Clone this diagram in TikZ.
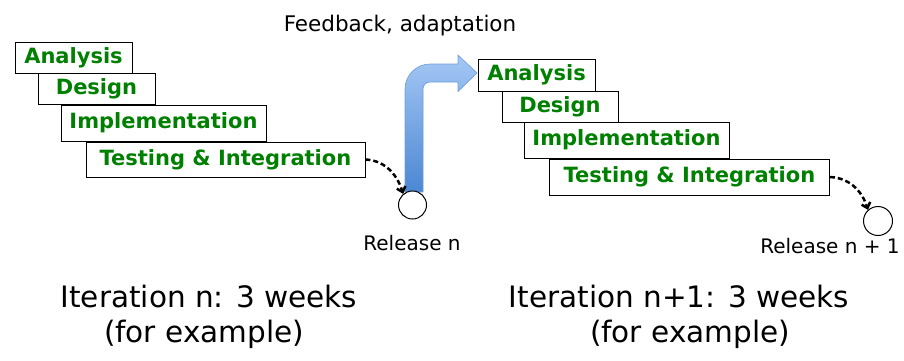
\documentclass[tikz,border=0pt]{standalone}
\usepackage{fontspec}
\setmainfont{DejaVu Sans}
\usetikzlibrary{arrows.meta}
\definecolor{boxgreen}{RGB}{0,128,0}
\definecolor{arrtop}{RGB}{165,200,245}
\definecolor{arrbot}{RGB}{75,135,210}
\definecolor{arredge}{RGB}{110,155,215}
\begin{document}
\begin{tikzpicture}[x=1pt,y=-1pt,
  phase/.style={draw=black, line width=0.8pt, fill=white, text=boxgreen,
    font=\fontsize{21}{24}\selectfont\bfseries, inner sep=0pt},
  relcirc/.style={circle, draw=black, line width=1pt, fill=white,
    minimum size=28pt, inner sep=0pt},
  lbl/.style={font=\fontsize{20}{24}\selectfont, anchor=base, inner sep=0pt},
  ttl/.style={font=\fontsize{29.5}{35}\selectfont, anchor=base, inner sep=0pt},
  flow/.style={dash pattern=on 5pt off 3pt, line width=2.5pt,
    -{Straight Barb[length=5pt,width=9pt]}},
  bigarrow/.style={draw=arredge, line width=0.6pt, top color=arrtop, bottom color=arrbot}
]
\useasboundingbox (0,0) rectangle (904,360);

% feedback arrow
\path[bigarrow] (405,192) -- (405,89)
  .. controls (405,75.2) and (416.2,64) .. (430,64)
  -- (458,64) -- (458,55) -- (477,73) -- (458,91.5) -- (458,82) -- (430,82)
  .. controls (426.1,82) and (423,85.1) .. (423,89)
  -- (423,192) -- cycle;

% iteration n
\node[phase, minimum width=117pt, minimum height=31pt] (a1) at (73.5,57.5) {Analysis};
\node[phase, minimum width=117pt, minimum height=31pt] (d1) at (96.5,88.5) {Design};
\node[phase, minimum width=205pt, minimum height=36pt] (i1) at (163.5,123) {Implementation};
\node[phase, minimum width=279pt, minimum height=35pt] (t1) at (225.5,159.5) {Testing \& Integration};
\node[relcirc] (c1) at (412.5,205) {};
\draw[flow] (t1.east) .. controls +(22,1) and +(-5,-16) .. (c1.130);

% iteration n+1
\node[phase, minimum width=117pt, minimum height=32pt] (a2) at (536.5,75) {Analysis};
\node[phase, minimum width=116pt, minimum height=31pt] (d2) at (560,106.5) {Design};
\node[phase, minimum width=205pt, minimum height=36pt] (i2) at (626.5,140) {Implementation};
\node[phase, minimum width=280pt, minimum height=36pt] (t2) at (689.5,177) {Testing \& Integration};
\node[relcirc, minimum size=29pt] (c2) at (878,221) {};
\draw[flow] (t2.east) .. controls +(22,1) and +(-5,-16) .. (c2.132);

% labels
\node[lbl, font=\fontsize{21.5}{26}\selectfont] (fb) at (400,31) {Feedback, adaptation};
\node[lbl] (r1) at (412,250) {Release n};
\node[lbl] (r2) at (830,253) {Release n + 1};

\node[ttl] (it1) at (209,307) {Iteration n: 3 weeks};
\node[ttl] (ex1) at (204,342) {(for example)};
\node[ttl] (it2) at (679,307) {Iteration n+1: 3 weeks};
\node[ttl] (ex2) at (690,342) {(for example)};
\end{tikzpicture}
\end{document}
